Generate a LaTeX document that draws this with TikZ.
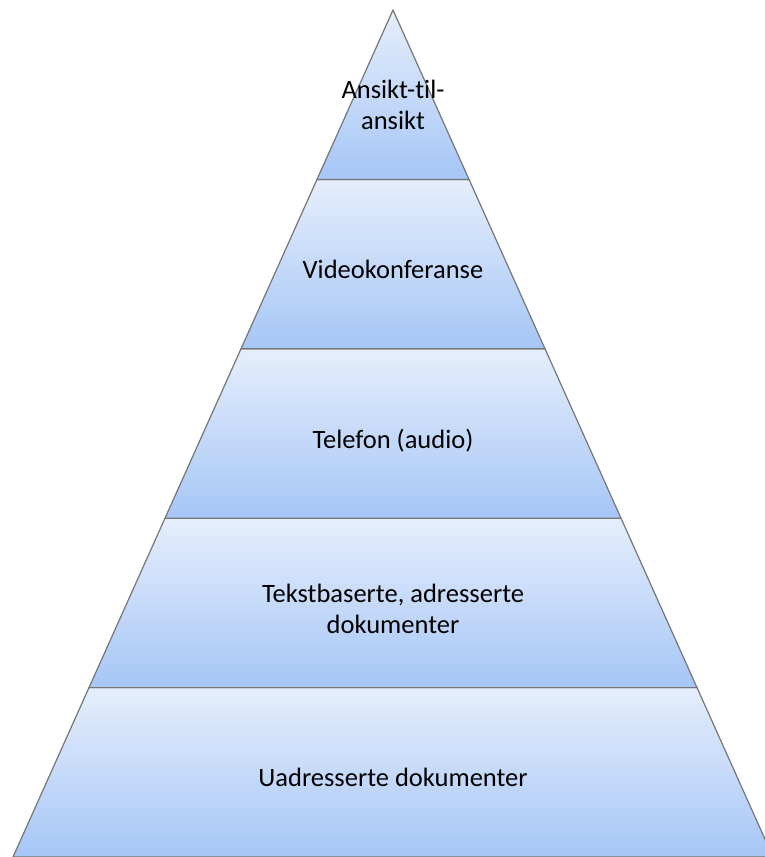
\documentclass[tikz,border=0pt]{standalone}
\usepackage{fontspec}
\setmainfont{Carlito}[Ligatures=NoCommon]
\definecolor{layertop}{RGB}{229,238,252}
\definecolor{layerbot}{RGB}{166,198,246}
\definecolor{edgegray}{RGB}{118,118,118}
\begin{document}
\begin{tikzpicture}[x=1pt,y=-1pt,
  layer/.style={draw=edgegray, line width=1.2pt, line join=round, top color=layertop, bottom color=layerbot},
  lbl/.style={font=\fontsize{26.5}{31}\selectfont, text=black, align=center, inner sep=0pt}]
\useasboundingbox (0,0) rectangle (765,857);
\clip (0,0) rectangle (765,857);
% boundary coordinates
\coordinate (A) at (393,10);
\coordinate (L1) at (317,179.4); \coordinate (R1) at (469,179.4);
\coordinate (L2) at (241,348.8); \coordinate (R2) at (545,348.8);
\coordinate (L3) at (165,518.2); \coordinate (R3) at (621,518.2);
\coordinate (L4) at (89,687.6);  \coordinate (R4) at (697,687.6);
\coordinate (L5) at (13,857);    \coordinate (R5) at (773,857);
% layers
\path[layer] (L4) -- (R4) -- (R5) -- (L5) -- cycle;
\path[layer] (L3) -- (R3) -- (R4) -- (L4) -- cycle;
\path[layer] (L2) -- (R2) -- (R3) -- (L3) -- cycle;
\path[layer] (L1) -- (R1) -- (R2) -- (L2) -- cycle;
\path[layer] (A) -- (R1) -- (L1) -- cycle;
% labels
\node[lbl] (t1) at (393,105) {Ansikt-til-\\ansikt};
\node[lbl, anchor=base] (t2) at (393,278) {Videokonferanse};
\node[lbl, anchor=base] (t3) at (393,448) {Telefon (audio)};
\node[lbl] (t4) at (393,608.5) {Tekstbaserte, adresserte\\dokumenter};
\node[lbl, anchor=base] (t5) at (393,786) {Uadresserte dokumenter};
\end{tikzpicture}
\end{document}
